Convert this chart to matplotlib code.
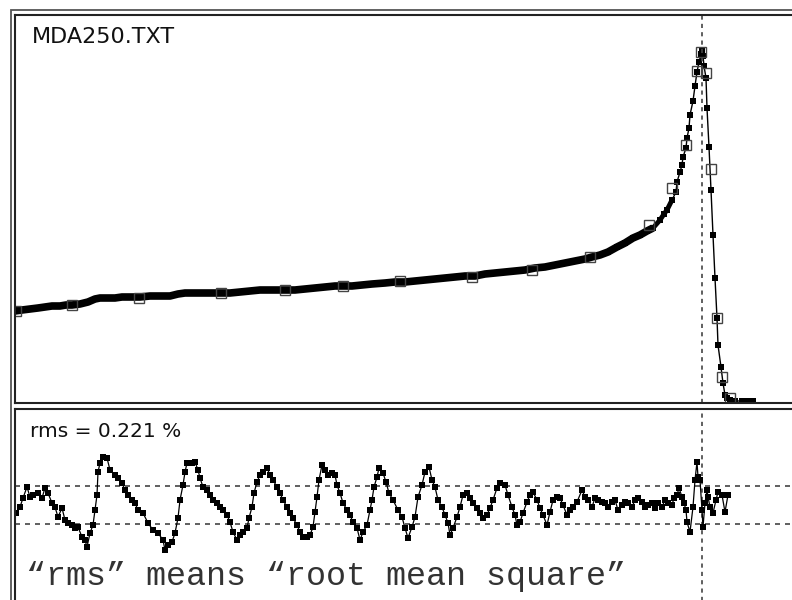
import matplotlib
matplotlib.use("Agg")
import matplotlib.pyplot as plt
from matplotlib.patches import Rectangle

# 上段: フィット曲線 (チャンネル, カウント)
fit_x = [15, 22, 30, 38, 45, 52, 60, 66, 72, 80, 88, 95, 100, 108, 115, 122, 130, 140,
         150, 160, 170, 178, 185, 195, 205, 215, 221, 230, 240, 250, 260, 270, 285, 295,
         305, 315, 325, 335, 343, 352, 362, 372, 385, 395, 405, 415, 425, 435, 445, 455,
         465, 475, 485, 495, 505, 515, 525, 535, 545, 555, 565, 575, 585, 592, 600, 608,
         617, 625, 633, 640, 647, 653, 660, 664, 667, 672, 676, 677, 680, 682, 683, 686,
         687, 689, 690, 693, 695, 697, 699, 701, 702, 703, 704, 706, 707, 709, 711, 713,
         715, 717, 718, 721, 723, 725, 727, 730, 735, 742, 748, 753]
fit_y = [90, 91, 92, 93, 94, 95, 95, 96, 96, 97, 99, 102, 103, 103, 103, 104, 104, 104,
         105, 105, 105, 107, 108, 108, 108, 108, 108, 108, 109, 110, 111, 111, 111, 111,
         112, 113, 114, 115, 115, 115, 116, 117, 118, 119, 119, 120, 121, 122, 123, 124,
         125, 125, 127, 128, 129, 130, 131, 133, 134, 136, 138, 140, 142, 144, 146, 149,
         154, 158, 163, 166, 170, 173, 181, 187, 191, 201, 209, 219, 229, 236, 244, 253,
         263, 273, 286, 300, 315, 329, 339, 347, 350, 345, 335, 323, 293, 254, 211, 166,
         123, 83, 56, 34, 18, 6, 3, 1, 0, 0, 0, 0]

# 上段: 測定点 (白抜き四角)
meas_x = [16, 72, 139, 221, 285, 343, 400, 472, 532, 590, 649, 672, 686, 697, 701, 706,
          711, 717, 722, 730]
meas_y = [90, 96, 103, 108, 111, 115, 120, 124, 131, 144, 176, 213, 256, 330, 349, 328,
          232, 83, 24, 3]

# 下段: 残差
res_x = [16, 20, 23, 27, 30, 33, 38, 42, 45, 48, 52, 55, 58, 62, 65, 68, 72, 75, 78, 82,
         85, 87, 90, 93, 95, 97, 98, 100, 103, 107, 110, 115, 118, 122, 125, 128, 132, 135,
         138, 143, 148, 153, 158, 163, 165, 168, 172, 175, 178, 180, 183, 185, 187, 192,
         195, 198, 200, 203, 207, 210, 213, 217, 220, 223, 227, 230, 233, 237, 240, 243,
         247, 249, 252, 254, 257, 260, 263, 267, 270, 273, 277, 280, 283, 287, 290, 293,
         297, 300, 303, 307, 310, 313, 315, 317, 319, 322, 325, 328, 332, 335, 337, 340,
         343, 347, 350, 353, 357, 360, 363, 367, 370, 372, 374, 377, 379, 383, 386, 389,
         393, 398, 402, 405, 408, 412, 415, 418, 422, 425, 429, 432, 435, 438, 442, 445,
         448, 450, 453, 457, 460, 463, 467, 470, 473, 477, 480, 483, 487, 490, 493, 497,
         500, 505, 508, 512, 515, 517, 520, 523, 527, 530, 533, 537, 540, 543, 547, 550,
         553, 557, 560, 563, 567, 570, 573, 577, 582, 585, 588, 592, 595, 598, 602, 605,
         608, 612, 615, 618, 622, 625, 628, 632, 635, 638, 642, 645, 648, 652, 655, 658,
         662, 665, 668, 672, 674, 677, 679, 682, 684, 686, 687, 690, 693, 695, 697, 698,
         700, 702, 703, 705, 707, 708, 710, 713, 716, 718, 722, 725, 728]
res_y = [-8, -2, 7, 18, 8, 10, 12, 7, 17, 12, 2, -2, -12, -3, -15, -18, -20, -23, -22, -32,
         -35, -42, -28, -20, -5, 10, 33, 42, 48, 47, 35, 30, 27, 22, 15, 10, 5, 2,
         -5, -8, -18, -25, -28, -35, -45, -40, -37, -28, -13, 5, 20, 33, 42, 42,
         43, 35, 27, 18, 15, 10, 5, 2, -2, -5, -10, -17, -27, -35, -30, -27,
         -23, -13, -2, 12, 23, 30, 33, 37, 30, 25, 18, 12, 5, -2, -8, -13,
         -20, -27, -32, -32, -30, -22, -7, 8, 25, 40, 35, 30, 32, 30, 20, 12,
         2, -5, -10, -17, -23, -35, -27, -20, -5, 5, 18, 28, 37, 32, 23, 12,
         5, -5, -12, -23, -33, -22, -12, 8, 20, 33, 38, 25, 18, 5, -2, -10,
         -18, -30, -23, -12, -2, 10, 12, 7, 2, -3, -8, -13, -10, -3, 5, 17,
         22, 20, 10, -2, -10, -20, -17, -8, 3, 10, 13, 5, -3, -10, -20, -7,
         5, 8, 7, 0, -10, -5, -2, 3, 15, 8, 5, -2, 7, 5, 3, 2,
         -2, 3, 5, -5, 0, 3, 2, -2, 5, 7, 3, -2, 0, 2, -3, 2,
         -2, 5, 2, 0, 7, 10, 17, 8, 2, -5, -17, -27, -2, 25, 43, 28,
         25, -5, -22, 2, 15, 8, -2, -8, 5, 13, 10, -7, 10]

rms_level = 19
peak_ch = 702

W, H = 792, 600
fig = plt.figure(figsize=(W / 100, H / 100), dpi=100)
fig.patch.set_facecolor("white")


def px_axes(left, top, right, bottom):
    return fig.add_axes([left / W, 1 - bottom / H, (right - left) / W, (bottom - top) / H])


# 上段
ax1 = px_axes(15, 15, 800, 403)
ax1.plot(fit_x[:72], fit_y[:72], "-", color="black", lw=5.5, solid_capstyle="butt")
ax1.plot(fit_x[69:76], fit_y[69:76], "-", color="black", lw=3.5, solid_capstyle="butt")
ax1.plot(fit_x, fit_y, "-", color="black", lw=1)
ax1.plot(fit_x, fit_y, "s", color="black", ms=4.3, mew=0)
ax1.plot(meas_x, meas_y, "s", mfc="none", mec="#444444", ms=7.5, mew=1)
ax1.axvline(peak_ch, color="#444444", lw=1.2, ls=(0, (2.5, 2.5)))
ax1.set_xlim(15, 800)
ax1.set_ylim(-2, 386)
ax1.text(32, 358, "MDA250.TXT", fontsize=16, family="DejaVu Sans", va="baseline",
         color="#111111")

# 下段
ax2 = px_axes(15, 409, 800, 610)
ax2.axhline(rms_level, color="#444444", lw=1.2, ls=(0, (3, 3)))
ax2.axhline(-rms_level, color="#444444", lw=1.2, ls=(0, (3, 3)))
ax2.axvline(peak_ch, color="#444444", lw=1.2, ls=(0, (2.5, 2.5)))
ax2.plot(res_x, res_y, "-", color="black", lw=0.9)
ax2.plot(res_x, res_y, "s", color="black", ms=4.6, mew=0)
ax2.set_xlim(15, 800)
ax2.set_ylim(-105, 96)
ax2.text(30, 68, "rms = 0.221 %", fontsize=14.5, family="DejaVu Sans", va="baseline",
         color="#111111")
ax2.text(26, -80, "\u201crms\u201d means \u201croot mean square\u201d", fontsize=24,
         family="Liberation Mono", color="#333333", va="baseline")

for ax in (ax1, ax2):
    ax.set_xticks([])
    ax.set_yticks([])
    for s in ax.spines.values():
        s.set_linewidth(1.5)
        s.set_color("#222222")

# 外枠
fig.add_artist(Rectangle((11 / W, -0.1), 1.2, 1 - 10 / H + 0.1, transform=fig.transFigure,
                         fill=False, lw=1.3, ec="#555555"))

fig.savefig("out.png", dpi=100)
